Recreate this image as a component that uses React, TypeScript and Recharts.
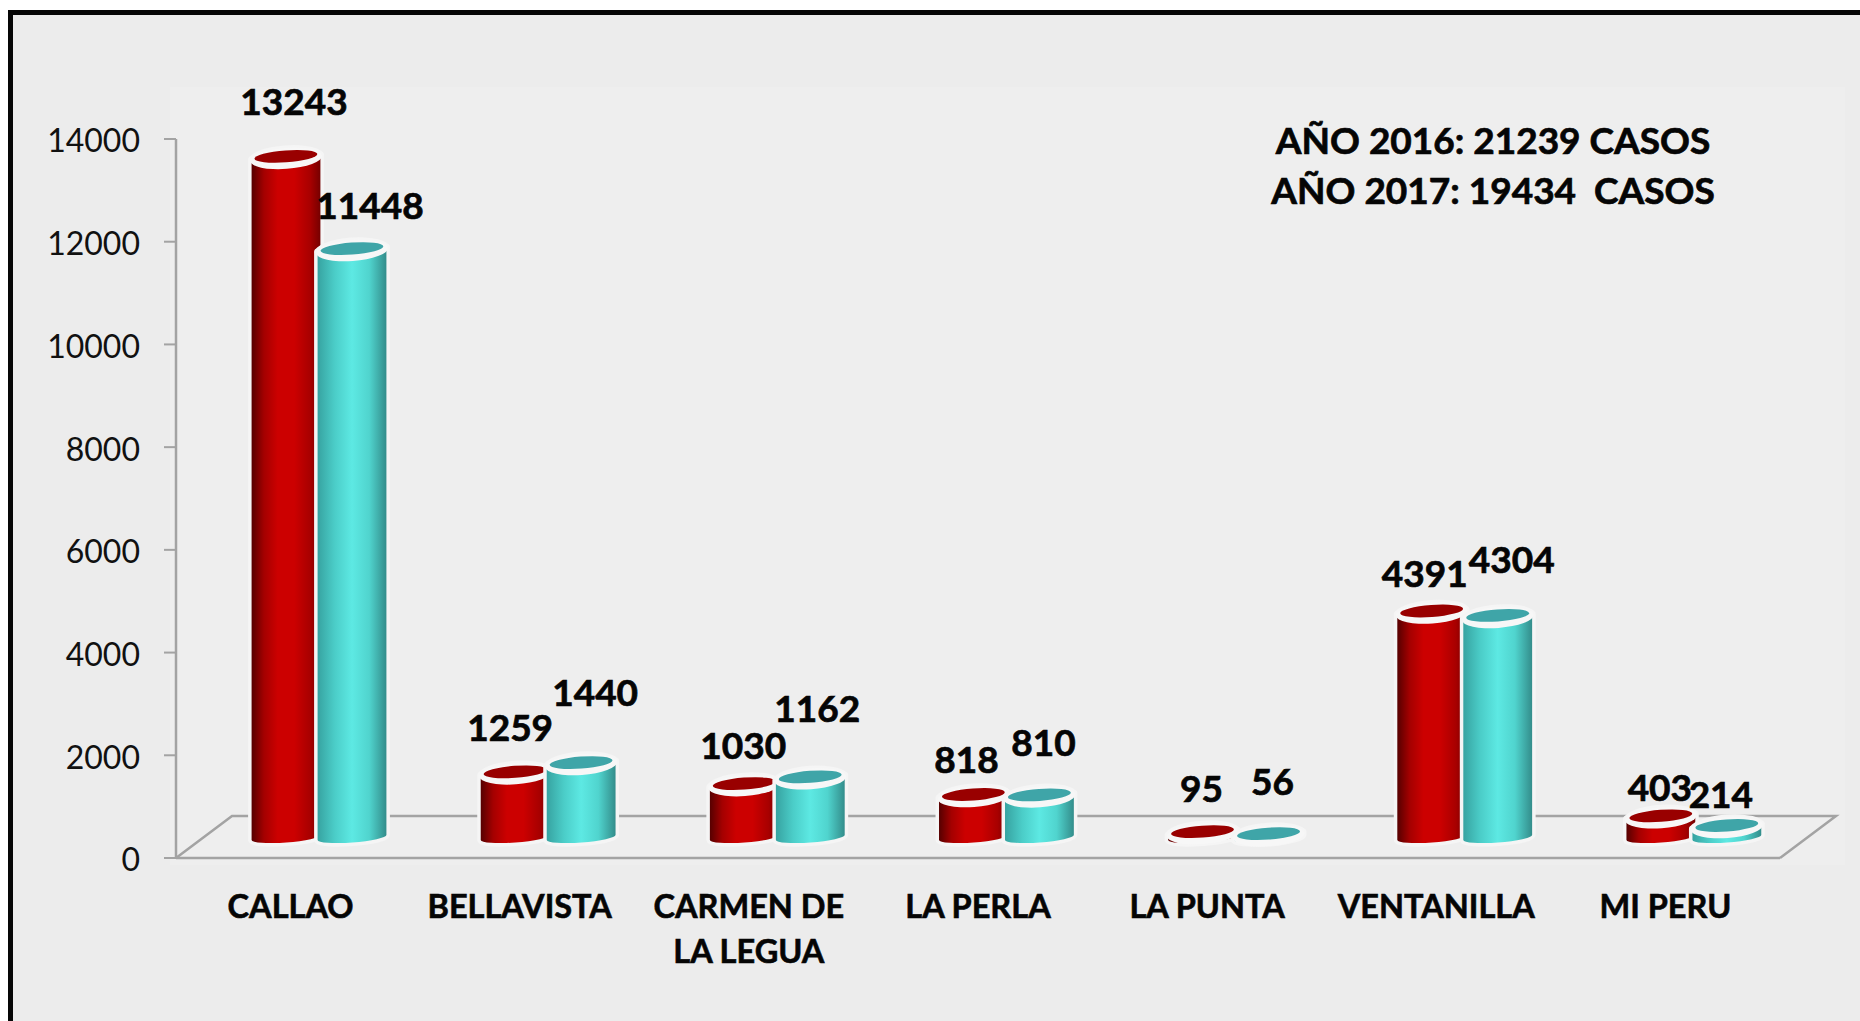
import { Bar, BarChart, LabelList, XAxis, YAxis, usePlotArea } from "recharts";

const CHART_WIDTH = 1860;
const CHART_HEIGHT = 1021;

const districts = ["CALLAO", "BELLAVISTA", "CARMEN DE LA LEGUA", "LA PERLA", "LA PUNTA", "VENTANILLA", "MI PERU"];
const cases2016 = [13243, 1259, 1030, 818, 95, 4391, 403];
const cases2017 = [11448, 1440, 1162, 810, 56, 4304, 214];
const yTicks = [0, 2000, 4000, 6000, 8000, 10000, 12000, 14000];
const totalsNote = ["AÑO 2016: 21239 CASOS", "AÑO 2017: 19434  CASOS"];

// Hand-placed data labels in the original, so each one gets its own nudge.
const nudge2016 = [[8, -55], [-5, -44], [-1, -38], [-7, -35], [-1, -43], [-7, -37], [-1, -28]];
const nudge2017 = [[18, -43], [14, -70], [7, -68], [4, -52], [4, -52], [14, -56], [-6, -31]];

const xTickLines: Record<string, string[]> = { "CARMEN DE LA LEGUA": ["CARMEN DE", "LA LEGUA"] };

const data = districts.map((name, i) => ({ name, y2016: cases2016[i], y2017: cases2017[i] }));

const FONT = "Lato, sans-serif";
const INK = "#050505";
const GRID = "#a3a3a3";
// The fake 3D floor: bars stand in the middle of it.
const FLOOR_DX = 56;
const FLOOR_DY = 42;
const BAR_DX = 28.5;
const BAR_DY = -20.5;
const TILT = 4.2;

function Floor() {
  const plot = usePlotArea();
  if (!plot) return null;
  const left = plot.x;
  const right = plot.x + plot.width;
  const front = plot.y + plot.height;
  const back = front - FLOOR_DY;
  return (
    <polyline
      points={`${left},${front} ${left + FLOOR_DX},${back} ${right + FLOOR_DX},${back} ${right},${front}`}
      fill="none"
      stroke={GRID}
      strokeWidth={2.5}
    />
  );
}

function Note() {
  return (
    <g fontFamily={FONT} fontWeight={700} fontSize={37} fill={INK} stroke={INK} strokeWidth={0.7} textAnchor="middle">
      <text x={1493} y={154} xmlSpace="preserve">{totalsNote[0]}</text>
      <text x={1493} y={204} xmlSpace="preserve">{totalsNote[1]}</text>
    </g>
  );
}

function Cylinder({ x, y, width, height, gradient, capColor }: any) {
  const cx = x + BAR_DX + width / 2;
  const top = y + BAR_DY;
  const bottom = y + height + BAR_DY;
  const rx = width / 2;
  const ry = 5;
  const sin = Math.sin((TILT * Math.PI) / 180);
  const cos = Math.cos((TILT * Math.PI) / 180);
  const lx = cx - rx * cos;
  const rxp = cx + rx * cos;
  const dyEdge = rx * sin;
  const body =
    `M${lx},${top + dyEdge} L${lx},${bottom + dyEdge} ` +
    `A${rx},${ry} ${-TILT} 0 0 ${rxp},${bottom - dyEdge} ` +
    `L${rxp},${top - dyEdge} Z`;
  const rotate = `rotate(${-TILT} ${cx} ${top})`;
  return (
    <g>
      <path d={body} fill="#f5f5f5" stroke="#f5f5f5" strokeWidth={7} strokeLinejoin="round" />
      <ellipse cx={cx} cy={top} rx={rx + 3} ry={12} fill="#f5f5f5" transform={rotate} />
      <path d={body} fill={`url(#${gradient})`} />
      <ellipse cx={cx} cy={top + 1} rx={rx + 1.5} ry={10.5} fill="#f7f7f7" transform={rotate} />
      <ellipse cx={cx} cy={top - 1} rx={rx - 3} ry={6} fill={capColor} transform={rotate} />
    </g>
  );
}

function BarValue({ x, y, width, value, index, nudge }: any) {
  const [dx, dy] = nudge[index];
  return (
    <text
      x={x + BAR_DX + width / 2 + dx}
      y={y - 21.5 + dy}
      dy="0.36em"
      textAnchor="middle"
      fontFamily={FONT}
      fontWeight={700}
      fontSize={37}
      fill={INK}
      stroke={INK}
      strokeWidth={0.7}
    >
      {value}
    </text>
  );
}

function CategoryTick({ x, y, payload }: any) {
  const lines = xTickLines[payload.value] ?? [payload.value];
  return (
    <text x={x} textAnchor="middle" fontFamily={FONT} fontWeight={700} fontSize={32.5} fill={INK} stroke={INK} strokeWidth={0.6}>
      {lines.map((line, i) => (
        <tspan key={line} x={x} y={y + 52 + i * 45}>
          {line}
        </tspan>
      ))}
    </text>
  );
}

export default function App() {
  return (
    <div style={{ position: "absolute", left: 0, top: 0, width: CHART_WIDTH, height: CHART_HEIGHT, background: "#fff", overflow: "hidden" }}>
      <div style={{ position: "absolute", left: 8, top: 10, width: 1900, height: 1100, border: "5px solid #060606", background: "#ececec", boxSizing: "border-box" }} />
      <div style={{ position: "absolute", left: 170, top: 87, width: 1675, height: 778, background: "#eeeeee" }} />
      <div style={{ position: "absolute", left: 0, top: 0 }}>
        <BarChart
          width={CHART_WIDTH}
          height={CHART_HEIGHT}
          data={data}
          margin={{ top: 139, right: 80, bottom: 0, left: 0 }}
          barSize={69}
          barGap={-3}
        >
          <defs>
            <linearGradient id="red-cyl" x1="0" y1="0" x2="1" y2="0">
              <stop offset="0%" stopColor="#560000" />
              <stop offset="18%" stopColor="#a40000" />
              <stop offset="38%" stopColor="#cc0000" />
              <stop offset="62%" stopColor="#cc0000" />
              <stop offset="85%" stopColor="#a80000" />
              <stop offset="100%" stopColor="#760000" />
            </linearGradient>
            <linearGradient id="cyan-cyl" x1="0" y1="0" x2="1" y2="0">
              <stop offset="0%" stopColor="#37a3a1" />
              <stop offset="25%" stopColor="#4bcdc8" />
              <stop offset="50%" stopColor="#5de9e3" />
              <stop offset="75%" stopColor="#50d4ce" />
              <stop offset="100%" stopColor="#338d8b" />
            </linearGradient>
          </defs>
          <Floor />
          <XAxis
            dataKey="name"
            height={163}
            interval={0}
            tick={<CategoryTick />}
            tickLine={false}
            axisLine={{ stroke: GRID, strokeWidth: 2.5 }}
          />
          <YAxis
            width={176}
            domain={[0, 14000]}
            ticks={yTicks}
            interval={0}
            tickSize={12}
            tickMargin={12}
            tick={{ fontFamily: FONT, fontSize: 32, fill: "#111", dx: -12, dy: 2 }}
            tickLine={{ stroke: GRID, strokeWidth: 2 }}
            axisLine={{ stroke: GRID, strokeWidth: 2.5 }}
          />
          <Bar
            dataKey="y2016"
            isAnimationActive={false}
            shape={<Cylinder gradient="red-cyl" capColor="#990000" />}
          >
            <LabelList dataKey="y2016" content={<BarValue nudge={nudge2016} />} />
          </Bar>
          <Bar
            dataKey="y2017"
            isAnimationActive={false}
            shape={<Cylinder gradient="cyan-cyl" capColor="#3fa5a8" />}
          >
            <LabelList dataKey="y2017" content={<BarValue nudge={nudge2017} />} />
          </Bar>
          <Note />
        </BarChart>
      </div>
    </div>
  );
}
